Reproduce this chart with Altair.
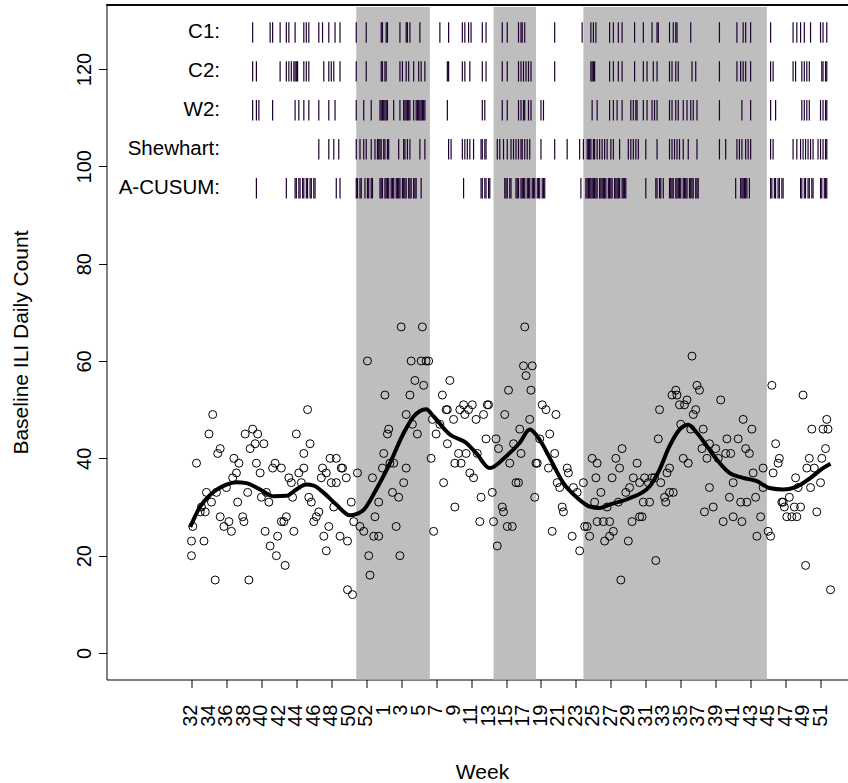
import altair as alt
import pandas as pd

# ---------------- data (day index counted from the week-32 tick) ----------------
point_day = [0, 0, 1, 4, 7, 8, 10, 11, 12, 14, 16, 17, 19, 20, 21, 23, 23, 26, 28, 30,
             32, 33, 34, 36, 37, 38, 41, 42, 43, 45, 46, 47, 49, 51, 52, 53, 55, 56, 58, 59,
             60, 62, 63, 65, 67, 68, 69, 72, 72, 74, 75, 76, 78, 80, 81, 82, 84, 86, 88, 90,
             90, 93, 94, 95, 96, 98, 100, 102, 104, 105, 106, 108, 108, 110, 111, 112, 114, 116, 116, 119,
             120, 121, 124, 125, 125, 128, 129, 130, 133, 135, 138, 141, 142, 143, 145, 146, 147, 150, 150, 153,
             154, 155, 157, 158, 159, 161, 162, 164, 166, 167, 168, 170, 172, 172, 175, 176, 177, 179, 181, 184,
             185, 186, 188, 190, 192, 193, 194, 196, 199, 201, 202, 204, 205, 205, 207, 210, 211, 211, 214, 215,
             216, 218, 219, 220, 222, 223, 225, 226, 228, 229, 231, 232, 234, 236, 237, 238, 241, 242, 244, 245,
             246, 249, 250, 251, 253, 254, 255, 257, 258, 260, 262, 263, 264, 266, 267, 268, 271, 272, 273, 275,
             276, 277, 279, 281, 284, 286, 287, 289, 291, 292, 293, 295, 297, 298, 301, 302, 305, 306, 309, 311,
             314, 315, 317, 319, 321, 323, 324, 325, 325, 328, 330, 331, 333, 335, 335, 337, 338, 340, 342, 343,
             344, 345, 348, 350, 351, 353, 354, 357, 359, 359, 361, 362, 363, 366, 367, 369, 371, 372, 374, 375,
             376, 379, 380, 381, 383, 383, 385, 386, 388, 389, 391, 392, 394, 395, 397, 398, 400, 401, 402, 404,
             405, 407, 409, 410, 411, 413, 415, 415, 418, 420, 422, 424, 426, 428, 429, 431, 432, 434, 434, 438,
             440, 441, 442, 444, 445, 447, 449, 450, 452, 453, 456, 458, 458, 462, 464, 465, 466, 468, 470, 471,
             473, 474, 475, 477, 479, 481, 483, 484, 485, 486, 488, 490, 492, 493, 495, 496, 497, 499, 501, 504,
             505, 506, 508, 509, 510, 512]
point_count = [23, 20, 26, 39, 29, 30, 23, 29, 33, 45, 31, 49, 15, 33, 41, 42, 28, 26, 34, 27,
               25, 36, 40, 37, 31, 39, 28, 27, 45, 33, 15, 42, 46, 43, 39, 45, 37, 32, 43, 25,
               33, 31, 22, 38, 39, 20, 24, 38, 27, 27, 18, 28, 36, 35, 32, 25, 45, 37, 35, 41,
               38, 50, 32, 43, 31, 27, 28, 29, 36, 38, 24, 37, 21, 26, 40, 35, 30, 35, 40, 24,
               38, 38, 36, 23, 13, 31, 12, 27, 37, 26, 25, 60, 20, 16, 36, 24, 28, 24, 31, 38,
               41, 53, 45, 46, 39, 33, 39, 26, 32, 20, 67, 35, 38, 49, 53, 60, 47, 56, 45, 60,
               67, 55, 60, 60, 40, 48, 25, 45, 47, 53, 35, 50, 50, 43, 56, 48, 30, 39, 41, 50,
               39, 51, 49, 41, 50, 37, 51, 36, 48, 41, 27, 32, 49, 44, 51, 51, 33, 27, 44, 22,
               42, 30, 29, 49, 26, 54, 39, 26, 43, 35, 35, 46, 41, 59, 67, 57, 48, 54, 59, 32,
               39, 39, 44, 51, 50, 38, 45, 25, 41, 49, 35, 34, 30, 29, 38, 37, 24, 34, 33, 21,
               35, 26, 26, 24, 40, 31, 36, 27, 39, 33, 27, 23, 30, 24, 27, 36, 25, 40, 31, 38,
               15, 42, 33, 23, 34, 27, 36, 39, 35, 28, 28, 31, 36, 35, 31, 36, 36, 19, 44, 50,
               35, 32, 31, 37, 38, 33, 53, 33, 54, 53, 51, 47, 40, 51, 52, 39, 46, 61, 49, 50,
               55, 54, 42, 46, 29, 40, 34, 43, 30, 42, 40, 52, 27, 41, 44, 32, 41, 35, 28, 44,
               31, 27, 48, 42, 31, 41, 46, 37, 32, 24, 28, 38, 34, 25, 24, 55, 37, 43, 39, 40,
               31, 31, 30, 28, 32, 28, 30, 36, 28, 34, 30, 53, 18, 38, 40, 34, 46, 38, 29, 35,
               40, 46, 42, 48, 46, 13]

smooth_day = [-1, 7, 15, 28, 36, 44, 55, 66, 76, 84, 92, 98, 106, 116, 127, 137, 148, 159,
              170, 178, 188, 194, 207, 220, 228, 239, 252, 263, 271, 279, 287, 298, 309, 319,
              327, 335, 351, 367, 375, 383, 391, 398, 405, 413, 421, 431, 442, 453, 463, 474,
              485, 496, 506, 512]
smooth_val = [25.9, 30.1, 32.5, 34.6, 35.1, 34.9, 33.6, 32.2, 32.3, 33.6, 34.6, 34.4, 32.9,
              30.5, 28.3, 29.2, 33.6, 39.0, 45.2, 48.6, 50.1, 48.6, 44.9, 43.2, 41.1, 38.0,
              40.4, 43.2, 45.9, 43.8, 40.1, 34.9, 31.9, 30.1, 29.8, 30.5, 31.8, 34.2, 37.7,
              42.5, 45.9, 46.9, 45.2, 42.5, 39.7, 37.0, 36.0, 35.3, 33.9, 33.6, 34.2, 36.0,
              38.0, 38.9]

period_start = [132, 242, 314]
period_end = [191, 276, 461]

tick_days = [0, 14, 28, 42, 56, 70, 84, 98, 112, 126, 140, 154, 168, 182, 196, 210, 224,
             238, 252, 266, 280, 294, 308, 322, 336, 350, 364, 378, 392, 406, 420, 434, 448,
             462, 476, 490, 504]
tick_labels = ["32", "34", "36", "38", "40", "42", "44", "46", "48", "50", "52", "1", "3",
               "5", "7", "9", "11", "13", "15", "17", "19", "21", "23", "25", "27", "29", "31",
               "33", "35", "37", "39", "41", "43", "45", "47", "49", "51"]

methods = ["C1:", "C2:", "W2:", "Shewhart:", "A-CUSUM:"]
method_level = [127.5, 119.5, 111.5, 103.5, 95.5]

c1_days = [49, 63, 65, 71, 76, 78, 83, 90, 92, 94, 102, 105, 110, 115, 119, 132, 140, 152, 153,
           156, 157, 167, 172, 173, 175, 183, 199, 206, 217, 219, 222, 224, 233, 236, 249, 253,
           262, 264, 265, 267, 291, 313, 320, 322, 324, 335, 338, 342, 345, 355, 362, 369, 373,
           374, 383, 386, 388, 389, 400, 423, 437, 442, 444, 448, 464, 482, 485, 488, 491, 496,
           504, 506, 509]
c2_days = [49, 52, 71, 76, 78, 80, 82, 83, 84, 85, 90, 92, 94, 106, 110, 112, 114, 119, 132,
           140, 152, 153, 155, 156, 167, 169, 172, 174, 178, 182, 184, 187, 205, 206, 217, 219,
           223, 233, 236, 249, 253, 262, 264, 266, 268, 270, 272, 291, 320, 321, 322, 323, 335,
           338, 342, 345, 355, 362, 365, 370, 373, 383, 385, 388, 390, 401, 404, 423, 437, 440,
           442, 444, 448, 464, 466, 482, 484, 489, 491, 493, 495, 505, 506, 508, 509]
w2_days = [49, 52, 54, 65, 83, 86, 90, 94, 102, 110, 115, 132, 138, 144, 151, 152, 153, 154,
           155, 156, 157, 162, 167, 170, 171, 172, 173, 174, 175, 178, 180, 181, 182, 183, 184,
           185, 186, 187, 205, 233, 235, 249, 253, 262, 264, 266, 267, 270, 272, 280, 282, 321,
           325, 335, 338, 341, 345, 352, 354, 356, 357, 362, 365, 369, 371, 373, 383, 385, 388,
           390, 394, 397, 400, 402, 405, 423, 441, 448, 464, 468, 489, 491, 493, 495, 504, 506,
           508, 509]
shewhart_days = [102, 110, 114, 118, 132, 135, 138, 140, 144, 147, 149, 150, 151, 152, 154,
                 155, 157, 158, 166, 170, 171, 173, 175, 183, 187, 206, 208, 217, 219, 221, 223,
                 226, 232, 233, 235, 236, 245, 247, 250, 253, 256, 258, 260, 262, 264, 265, 267,
                 269, 271, 280, 291, 301, 311, 314, 317, 318, 319, 320, 322, 323, 325, 327, 329,
                 331, 333, 336, 338, 343, 350, 352, 354, 356, 358, 364, 373, 383, 385, 387, 389,
                 391, 394, 398, 405, 423, 428, 437, 439, 441, 444, 446, 448, 464, 466, 482, 485,
                 488, 490, 492, 494, 496, 498, 502, 504, 506, 508, 509]
acusum_days = [52, 76, 83, 84, 86, 87, 89, 90, 92, 93, 95, 96, 98, 99, 116, 119, 132, 133, 135,
               136, 139, 141, 142, 144, 145, 151, 152, 153, 155, 156, 157, 158, 160, 161, 162,
               164, 165, 166, 167, 169, 170, 171, 172, 174, 175, 176, 178, 179, 180, 184, 218,
               232, 233, 235, 236, 238, 239, 251, 252, 253, 255, 256, 260, 261, 262, 264, 265,
               266, 267, 269, 270, 271, 273, 274, 275, 277, 278, 279, 281, 282, 283, 312, 316,
               317, 318, 319, 320, 321, 322, 323, 324, 325, 327, 328, 329, 330, 331, 332, 334,
               335, 336, 337, 339, 340, 341, 342, 343, 345, 346, 347, 348, 364, 372, 373, 375,
               376, 378, 383, 384, 385, 386, 388, 389, 390, 391, 392, 394, 395, 396, 397, 399,
               400, 401, 402, 404, 405, 406, 436, 440, 441, 442, 443, 444, 445, 447, 464, 465,
               467, 468, 470, 471, 473, 474, 488, 489, 491, 492, 494, 495, 497, 498, 504, 505,
               507, 508, 509]

# ---------------- tables ----------------
points = pd.DataFrame({"day": point_day, "count": point_count})
smooth = pd.DataFrame({"day": smooth_day, "value": smooth_val})
periods = pd.DataFrame({"start": period_start, "end": period_end})
ticks = pd.DataFrame({"day": tick_days, "label": tick_labels})
alarm_lists = [c1_days, c2_days, w2_days, shewhart_days, acusum_days]
rows = []
for name, level, days in zip(methods, method_level, alarm_lists):
    for d in days:
        rows.append({"method": name, "day": d, "lo": level - 2.1, "hi": level + 2.1})
alarms = pd.DataFrame(rows)
labels = pd.DataFrame({"method": methods, "level": method_level})

FONT = "Liberation Sans"
W, H = 741.5, 674.5

xscale = alt.Scale(domain=[-68.1, 526.0], nice=False, zero=False)
yscale = alt.Scale(domain=[-5.44, 133.14], nice=False, zero=False)

xaxis = alt.Axis(values=tick_days, labels=False, tickSize=8, grid=False,
                 title="Week", titleX=375.5, titleY=99,
                 titleAlign="center", titleBaseline="alphabetic", titleAnchor="start")
yaxis = alt.Axis(values=[0, 20, 40, 60, 80, 100, 120], labelAngle=270, labelAlign="center",
                 labelBaseline="alphabetic", labelPadding=8.5, tickSize=8,
                 labelOverlap=False, labelFlush=False, grid=False,
                 title="Baseline ILI Daily Count", titleAngle=270, titleX=-79.5, titleY=337,
                 titleAlign="center", titleBaseline="alphabetic", titleAnchor="start")

shade = alt.Chart(periods).mark_rect(color="#BEBEBE").encode(
    x=alt.X("start:Q", scale=xscale),
    x2="end:Q",
    y=alt.value(2),
    y2=alt.value(H),
)

dots = alt.Chart(points).mark_point(shape="circle", filled=False, color="black",
                                     size=64, strokeWidth=1, opacity=1).encode(
    x=alt.X("day:Q", scale=xscale, axis=xaxis),
    y=alt.Y("count:Q", scale=yscale, axis=yaxis),
)

line = alt.Chart(smooth).mark_line(color="black", strokeWidth=4, interpolate="monotone").encode(
    x=alt.X("day:Q", scale=xscale),
    y=alt.Y("value:Q", scale=yscale),
)

rug = alt.Chart(alarms).mark_rule(color="#1E0030", strokeWidth=1.2).encode(
    x=alt.X("day:Q", scale=xscale),
    y=alt.Y("lo:Q", scale=yscale),
    y2="hi:Q",
)

text = alt.Chart(labels).mark_text(align="right", baseline="middle", font=FONT,
                                   fontSize=20.5, color="black").encode(
    x=alt.value(113.5),
    y=alt.Y("level:Q", scale=yscale),
    text="method:N",
)

tick_text = alt.Chart(ticks).mark_text(angle=270, align="right", baseline="middle",
                                       font=FONT, fontSize=20, color="black").encode(
    x=alt.X("day:Q", scale=xscale),
    y=alt.value(H + 25),
    text="label:N",
)

top_border = alt.Chart(labels).mark_rule(color="black", strokeWidth=1).encode(
    x=alt.value(0), x2=alt.value(W), y=alt.value(0)
)

chart = alt.layer(shade, dots, line, rug, text, tick_text, top_border).properties(
    width=W, height=H,
    padding={"left": 106.5, "top": 5, "right": 0, "bottom": 103.5},
    autosize=alt.AutoSizeParams(type="none"),
).configure_view(stroke=None).configure_axis(
    domainColor="black", tickColor="black", labelColor="black", titleColor="black",
    labelFont=FONT, titleFont=FONT, labelFontSize=20, titleFontSize=21,
    titleFontWeight="normal", domainWidth=1, tickWidth=1,
)

chart.save("out.html", embed_options={"renderer": "svg", "actions": False})
